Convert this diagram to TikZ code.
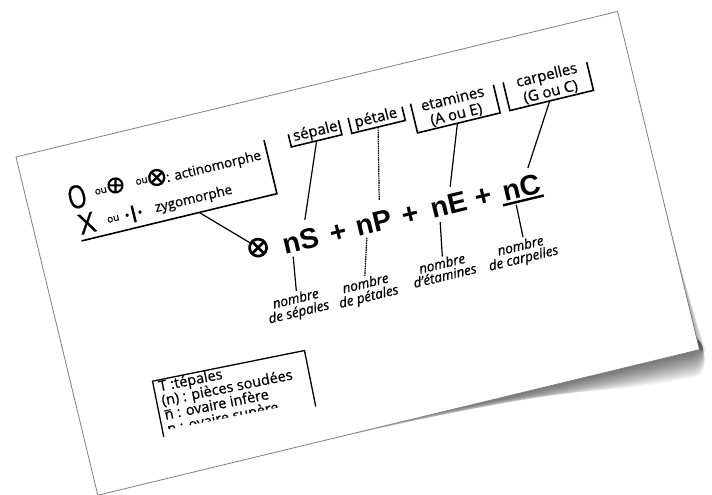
\documentclass[tikz,border=0pt]{standalone}
\usepackage{fontspec}
\setmainfont{Open Sans}[FakeBold=0.6]
\newfontfamily\formulafont{Liberation Sans}
\tikzset{
  card/.style={fill=white, draw=black!50, line width=0.8pt},
  bracket/.style={line width=1.6pt, line join=miter},
  link/.style={line width=1.2pt},
  dlink/.style={line width=1.2pt, dash pattern=on 1.6pt off 0.7pt},
  headtxt/.style={font=\fontsize{15}{16}\selectfont, inner sep=0pt, anchor=base},
  nbtxt/.style={font=\itshape\fontsize{13.5}{14}\selectfont, inner sep=0pt, anchor=base},
  keytxt/.style={font=\fontsize{14.5}{15}\selectfont, inner sep=0pt, anchor=base west},
  smalltxt/.style={font=\fontsize{13.5}{14}\selectfont, inner sep=0pt, anchor=base west},
  tinytxt/.style={font=\fontsize{10}{10}\selectfont, inner sep=0pt},
  bigsym/.style={font=\fontsize{28}{28}\selectfont, inner sep=0pt},
  term/.style={font=\formulafont\bfseries\fontsize{28.5}{29}\selectfont, inner sep=0pt, anchor=base},
  ringplus/.style={circle, draw, line width=#1, inner sep=0pt,
    path picture={\draw[line width=#1]
      (path picture bounding box.north) -- (path picture bounding box.south)
      (path picture bounding box.west) -- (path picture bounding box.east);}},
  ringcross/.style={circle, draw, line width=#1, inner sep=0pt,
    path picture={\draw[line width=#1]
      (path picture bounding box.north west) -- (path picture bounding box.south east)
      (path picture bounding box.north east) -- (path picture bounding box.south west);}},
}
\begin{document}
\begin{tikzpicture}[x=1pt, y=-1pt]
\useasboundingbox (0,0) rectangle (712,495);
\fill[white] (0,0) rectangle (712,495);
% the card, tilted, in its own frame (u to the right, v downwards)
\begin{scope}[shift={(16,157)}, rotate=13.6, transform shape]
  % soft shadow under the lower edge, growing towards the right corner
  \foreach \k in {1,...,16}
    \fill[black, opacity=0.042]
      (110+15*\k,347) .. controls (250+15*\k,348+0.3*\k) and (500,348+1.3*\k) ..
      (608,348+1.6*\k) .. controls (624,348+1.6*\k) and (626,345) .. (619,336) -- cycle;
  % and a thin one along the right edge
  \foreach \k in {1,...,7}
    \fill[black, opacity=0.05] (619,120+22*\k) -- (619+0.9*\k,351) -- (619,348) -- cycle;
  \draw[card] (0,0) rectangle (619,348);

  % symmetry key
  \node[font=\fontsize{32}{32}\selectfont, inner sep=0pt] (symO) at (50,53) {\scalebox{0.75}[1]{O}};
  \node[tinytxt] (ou1) at (74.5,53) {ou};
  \node[ringplus=2.1pt, minimum size=14pt] (symP) at (90,51) {};
  \node[tinytxt] (ou2) at (116.5,53) {ou};
  \node[ringcross=2.3pt, minimum size=15pt] (symX) at (132,53) {};
  \node[smalltxt] (actino) at (141,60) {: actinomorphe};
  \node[bigsym] (symZ) at (53.5,81) {X};
  \node[tinytxt] (ou3) at (80,83) {ou};
  \node[font=\fontsize{13}{13}\selectfont, inner sep=0pt] (bar) at (101,83)
    {\textbullet\hspace{3pt}\rule[-4pt]{2.4pt}{17pt}\hspace{3pt}\textbullet};
  \node[smalltxt] (zygo) at (123,86.5) {zygomorphe};
  \draw[bracket] (44,97) -- (245,97) -- (245,42);
  \coordinate (keyfoot) at (165,97);

  % floral formula
  \node[ringcross=2.7pt, minimum size=17pt] (flower) at (214,145) {};
  \node[term] (nS) at (257,158) {nS};
  \node[term] (plusA) at (295.5,158) {+};
  \node[term] (nP) at (332,158) {nP};
  \node[term] (plusB) at (370,158) {+};
  \node[term] (nE) at (410,158) {nE};
  \node[term] (plusC) at (445,158) {+};
  \node[term] (nC) at (484,158) {nC};
  \draw[line width=2.4pt] (462,161.5) -- (504,161.5);
  \draw[link] (keyfoot) -- (flower);

  % organ names above
  \node[headtxt] (sepT) at (297,50) {sépale};
  \draw[bracket] (270,42) -- (270,55) -- (322,55) -- (322,40);
  \node[headtxt] (petT) at (359,51) {pétale};
  \draw[bracket] (332,40) -- (332,56) -- (387,56) -- (387,42);
  \node[headtxt] (etaT) at (438,51) {etamines};
  \node[headtxt] (etaU) at (438,67) {(A ou E)};
  \draw[bracket] (396,41) -- (396,71) -- (481,71) -- (481,42);
  \node[headtxt] (carT) at (535,50) {carpelles};
  \node[headtxt] (carU) at (535,67) {(G ou C)};
  \draw[bracket] (491,42) -- (491,71) -- (577,71) -- (577,42);

  \coordinate (sepB) at (296,55);   \coordinate (sepE) at (266,129);
  \coordinate (petB) at (359,56);   \coordinate (petE) at (343,127);
  \coordinate (etaB) at (437,71);   \coordinate (etaE) at (415,131);
  \coordinate (carB) at (532,71);   \coordinate (carE) at (495,131);
  \draw[link] (sepB) -- (sepE);
  \draw[dlink] (petB) -- (petE);
  \draw[link] (etaB) -- (etaE);
  \draw[link] (carB) -- (carE);

  % counts below
  \coordinate (nSa) at (246,162);  \coordinate (nSb) at (241,196);
  \coordinate (nPa) at (322,161);  \coordinate (nPb) at (311,198);
  \coordinate (nEa) at (397,163);  \coordinate (nEb) at (391,197);
  \coordinate (nCa) at (475,164);  \coordinate (nCb) at (474,197);
  \draw[link] (nSa) -- (nSb);
  \draw[dlink] (nPa) -- (nPb);
  \draw[link] (nEa) -- (nEb);
  \draw[link] (nCa) -- (nCb);
  \node[nbtxt] (cntS1) at (238.5,208) {nombre};
  \node[nbtxt] (cntS2) at (238.5,221.5) {de sépales};
  \node[nbtxt] (cntP1) at (310,209.5) {nombre};
  \node[nbtxt] (cntP2) at (310,223) {de pétales};
  \node[nbtxt] (cntE1) at (389,208.5) {nombre};
  \node[nbtxt] (cntE2) at (389,221) {d'étamines};
  \node[nbtxt] (cntC1) at (469.5,209.5) {nombre};
  \node[nbtxt] (cntC2) at (469.5,222) {de carpelles};

  % legend box, slightly less tilted, cut off at the bottom
  \begin{scope}[rotate around={-2.2:(80,250)}]
    \draw[bracket, line width=1.3pt] (80,307) -- (80,250) -- (235,250) -- (235,307);
    \begin{scope}
      \clip (70,240) rectangle (240,300.5);
      \node[keytxt] (key1) at (85,261.5) {T :tépales};
      \node[keytxt] (key2) at (85,276) {(n) : pièces soudées};
      \node[keytxt] (key3) at (85,290.5) {\makebox[0pt][l]{\rule[8.5pt]{7pt}{1pt}}n : ovaire infère};
      \node[keytxt] (key4) at (85,305) {\underline{n} : ovaire supère};
    \end{scope}
  \end{scope}
\end{scope}
\end{tikzpicture}
\end{document}
